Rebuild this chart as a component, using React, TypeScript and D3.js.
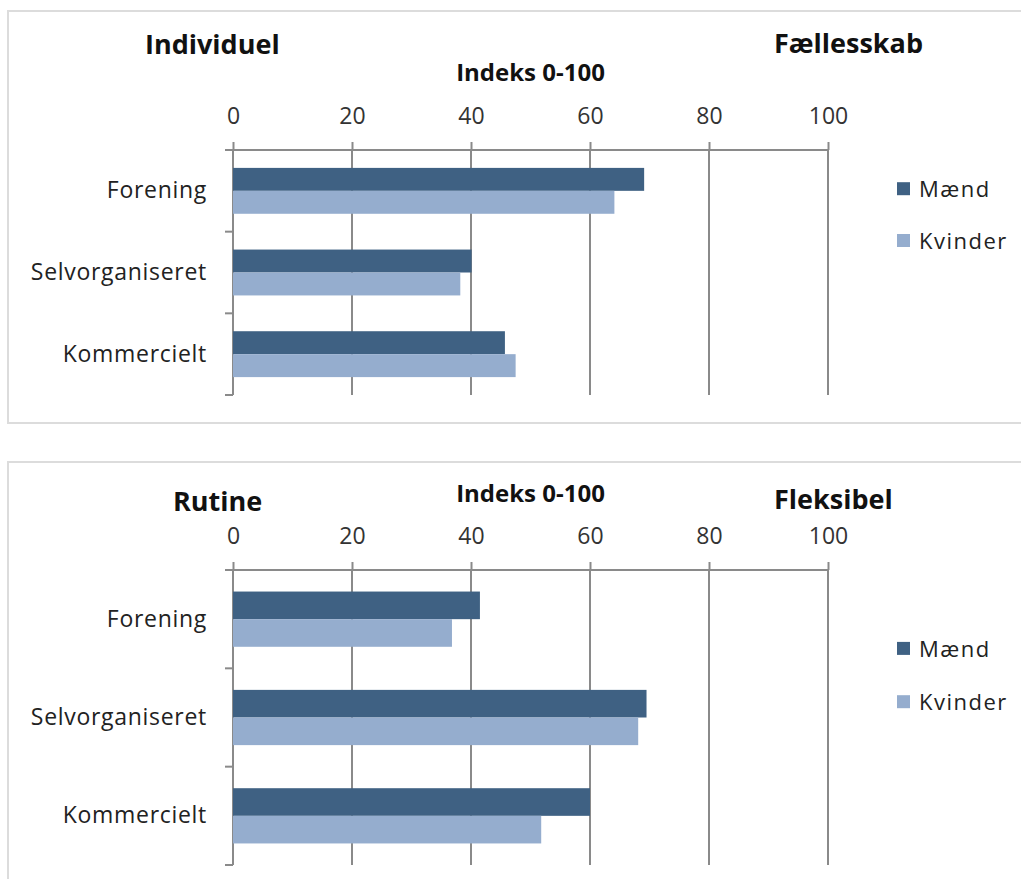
import * as d3 from "d3";
import { useEffect, useRef } from "react";

const categories = ["Forening", "Selvorganiseret", "Kommercielt"];
const seriesNames = ["Mænd", "Kvinder"];
const xTicks = [0, 20, 40, 60, 80, 100];

// Individuel / Fællesskab
const topMaend = [69.1, 40.1, 45.7];
const topKvinder = [64.1, 38.2, 47.5];

// Rutine / Fleksibel
const bottomMaend = [41.5, 69.5, 60.0];
const bottomKvinder = [36.8, 68.1, 51.8];

const colors = ["#3f6183", "#95adce"];
const lineColor = "#8a8a8a";
const font = "'Open Sans', sans-serif";

const panels = [
  {
    boxTop: 11, boxH: 412,
    left: "Individuel", leftX: 145, leftY: 54,
    right: "Fællesskab", rightX: 774, rightY: 53,
    titleY: 81, axisY: 150, bottomY: 395,
    legendY: [188.7, 240.5],
    values: [topMaend, topKvinder],
  },
  {
    boxTop: 462, boxH: 440,
    left: "Rutine", leftX: 173, leftY: 511,
    right: "Fleksibel", rightX: 774, rightY: 509,
    titleY: 502, axisY: 570, bottomY: 865,
    legendY: [648.4, 701.7],
    values: [bottomMaend, bottomKvinder],
  },
];

const App = () => {
  const ref = useRef<SVGSVGElement>(null);

  useEffect(() => {
    const svg = d3.select(ref.current);
    svg.selectAll("*").remove();

    const x = d3.scaleLinear().domain([0, 100]).range([233, 828]);

    panels.forEach(p => {
      const g = svg.append("g");

      g.append("rect")
        .attr("x", 8).attr("y", p.boxTop)
        .attr("width", 1040).attr("height", p.boxH)
        .attr("fill", "#fff")
        .attr("stroke", "#dcdcdc").attr("stroke-width", 2);

      const y = d3.scaleBand().domain(categories).range([p.axisY, p.bottomY]);
      const sub = d3.scaleBand().domain(seriesNames)
        .range([0, y.bandwidth()]).paddingOuter(0.78);

      // gridlines
      g.selectAll(".grid")
        .data(xTicks)
        .enter()
        .append("line")
        .attr("x1", d => x(d)).attr("x2", d => x(d))
        .attr("y1", p.axisY).attr("y2", p.bottomY)
        .attr("stroke", lineColor).attr("stroke-width", 2);

      // top value axis
      const xAxis = d3.axisTop(x).tickValues(xTicks).tickSize(8).tickPadding(18.5).tickSizeOuter(0);
      const ax = g.append("g").attr("transform", `translate(0, ${p.axisY})`).call(xAxis);
      ax.select(".domain").remove();
      ax.selectAll("line").attr("stroke", lineColor).attr("stroke-width", 2);
      ax.selectAll("text")
        .attr("font-family", font).attr("font-size", 23).attr("fill", "#333");

      g.append("line")
        .attr("x1", 225).attr("x2", x(100))
        .attr("y1", p.axisY).attr("y2", p.axisY)
        .attr("stroke", lineColor).attr("stroke-width", 2);

      // category boundary ticks
      g.selectAll(".ctick")
        .data(categories)
        .enter()
        .append("line")
        .attr("x1", 225).attr("x2", x(0))
        .attr("y1", d => y(d)! + y.step()).attr("y2", d => y(d)! + y.step())
        .attr("stroke", lineColor).attr("stroke-width", 2);

      // bars
      seriesNames.forEach((s, si) => {
        g.selectAll(`.bar-${si}`)
          .data(categories)
          .enter()
          .append("rect")
          .attr("x", x(0))
          .attr("y", d => y(d)! + sub(s)!)
          .attr("width", (d, i) => x(p.values[si][i]) - x(0))
          .attr("height", sub.bandwidth())
          .attr("fill", colors[si]);
      });

      // category labels
      const yAxis = d3.axisLeft(y).tickSize(0).tickPadding(26);
      const ay = g.append("g").attr("transform", `translate(${x(0)}, 0)`).call(yAxis);
      ay.select(".domain").remove();
      ay.selectAll("text")
        .attr("font-family", font).attr("font-size", 23)
        .attr("letter-spacing", 0.7).attr("fill", "#222");

      // titles
      g.append("text")
        .attr("x", p.leftX).attr("y", p.leftY)
        .attr("font-family", font).attr("font-weight", 700).attr("font-size", 27)
        .attr("fill", "#111").text(p.left);
      g.append("text")
        .attr("x", p.rightX).attr("y", p.rightY)
        .attr("font-family", font).attr("font-weight", 700).attr("font-size", 27)
        .attr("fill", "#111").text(p.right);
      g.append("text")
        .attr("x", (x(0) + x(100)) / 2).attr("y", p.titleY)
        .attr("text-anchor", "middle")
        .attr("font-family", font).attr("font-weight", 700).attr("font-size", 24)
        .attr("fill", "#111").text("Indeks 0-100");

      // legend
      seriesNames.forEach((s, si) => {
        g.append("rect")
          .attr("x", 897).attr("y", p.legendY[si] - 6.5)
          .attr("width", 13).attr("height", 13)
          .attr("fill", colors[si]);
        g.append("text")
          .attr("x", 919).attr("y", p.legendY[si] + 8.5)
          .attr("font-family", font).attr("font-size", 22)
          .attr("letter-spacing", 1.5).attr("fill", "#222")
          .text(s);
      });
    });
  }, []);

  return (
    <svg
      ref={ref}
      width={1021}
      height={879}
      style={{ position: "absolute", left: 0, top: 0, background: "#fff" }}
    />
  );
};

export default App;
